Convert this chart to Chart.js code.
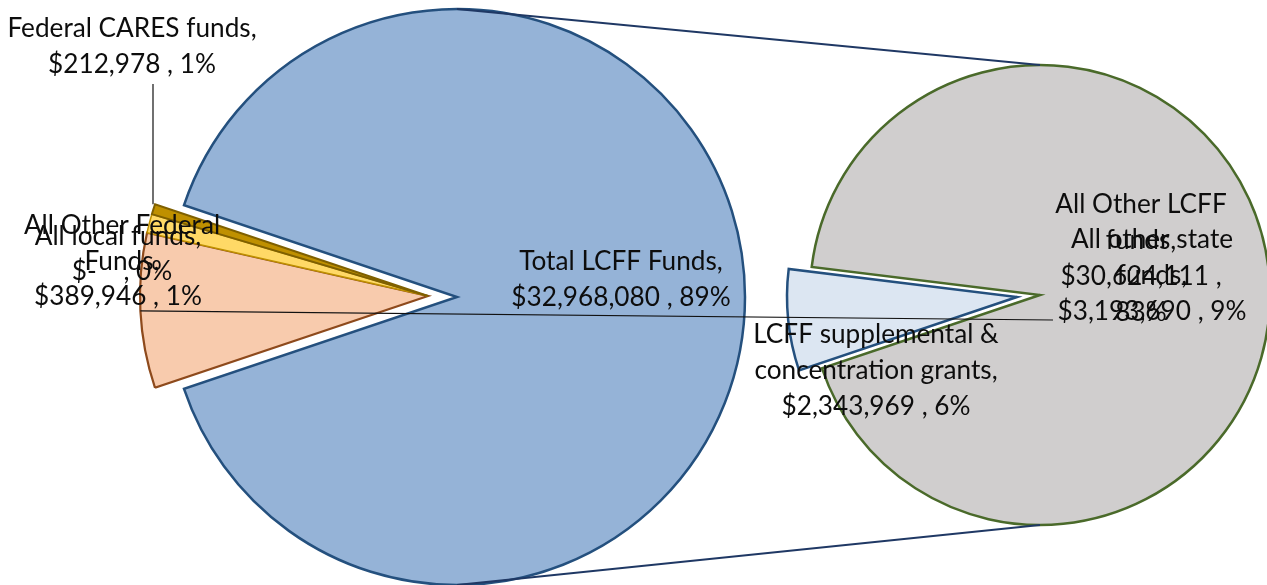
<!DOCTYPE html>
<html><head><meta charset="utf-8">
<script src="https://cdn.jsdelivr.net/npm/chart.js@4"></script>
<style>
html,body{margin:0;padding:0;background:#fff;}
#wrap{position:relative;width:1267px;height:585px;overflow:hidden;background:#fff;}
canvas{position:absolute;left:0;top:0;}
</style></head><body>
<div id="wrap">
<canvas id="c1" width="1267" height="585"></canvas>
<canvas id="c2" width="1267" height="585"></canvas>
<canvas id="c3" width="1267" height="585"></canvas>
<canvas id="c4" width="1267" height="585"></canvas>
</div>
<script>
// ---- data ----
const mainCategories = ['Total LCFF Funds', 'All other state funds', 'All local funds', 'All Other Federal Funds', 'Federal CARES funds'];
const mainValues = [32968080, 3193690, 389946, 0, 212978];
const secondaryCategories = ['All Other LCFF funds', 'LCFF supplemental & concentration grants'];
const secondaryValues = [30624111, 2343969];

// ---- helpers ----
const W = 1267, H = 585;
const grandTotal = mainValues.reduce((a, b) => a + b, 0);
function pad(cx, cy) {
  return { left: Math.max(0, 2 * cx - W), right: Math.max(0, W - 2 * cx),
           top: Math.max(0, 2 * cy - H), bottom: Math.max(0, H - 2 * cy) };
}
function money(v) { return v === 0 ? '$-   ' : '$' + v.toLocaleString('en-US'); }
function pctNum(v) { return Math.round(v / grandTotal * 100); }
function pct(v) { return pctNum(v) + '%'; }
// combined slice percentage = sum of its (rounded) parts, as in the source chart
const combinedPct = secondaryValues.reduce((a, v) => a + pctNum(v), 0) + '%';
function splitWords(name, counts) {
  const w = name.split(' '); const out = []; let k = 0;
  counts.forEach(c => { out.push(w.slice(k, k + c).join(' ')); k += c; });
  out[out.length - 1] += ',';
  return out;
}
const TRANSPARENT = 'rgba(0,0,0,0)';
const lcffFrac = mainValues[0] / grandTotal;
const mainRotation = 90 - lcffFrac * 180;
const secRotation = 277;

const common = (cx, cy, r, rot) => ({
  responsive: false, animation: false, events: [],
  layout: { padding: pad(cx, cy) },
  radius: r, rotation: rot,
  plugins: { legend: { display: false }, tooltip: { enabled: false } }
});

// main pie: the big combined slice
const chart1 = new Chart(document.getElementById('c1'), {
  type: 'pie',
  data: { labels: mainCategories, datasets: [{
    data: mainValues, clip: false,
    backgroundColor: mainCategories.map((c, i) => i === 0 ? '#95B3D7' : TRANSPARENT),
    borderColor: mainCategories.map((c, i) => i === 0 ? '#24507E' : TRANSPARENT),
    borderWidth: mainCategories.map((c, i) => i === 0 ? 2.5 : 0),
    borderJoinStyle: 'miter'
  }]},
  options: common(457, 297, 288, mainRotation)
});

// main pie: the small slices (shifted left)
const smallFill = [TRANSPARENT, '#F8CBAD', '#FFD966', '#FFFFFF', '#BF9000'];
const smallBorder = [TRANSPARENT, '#8E4A1C', '#BF9000', TRANSPARENT, '#7F6000'];
const smallWidth = [0, 2.2, 1.5, 0, 2];
const chart2 = new Chart(document.getElementById('c2'), {
  type: 'pie',
  data: { labels: mainCategories, datasets: [{
    data: mainValues, clip: false,
    backgroundColor: smallFill, borderColor: smallBorder, borderWidth: smallWidth,
    borderJoinStyle: 'miter'
  }]},
  options: common(428, 296, 288, mainRotation)
});

// secondary pie: large part
const chart3 = new Chart(document.getElementById('c3'), {
  type: 'pie',
  data: { labels: secondaryCategories, datasets: [{
    data: secondaryValues, clip: false,
    backgroundColor: ['#D0CECE', TRANSPARENT],
    borderColor: ['#4A6A2A', TRANSPARENT],
    borderWidth: [2.5, 0],
    borderJoinStyle: 'miter'
  }]},
  options: common(1040, 295, 230, secRotation)
});

// overlay: connectors, leader lines, labels
const overlay = {
  id: 'overlay',
  afterDraw(chart) {
    const ctx = chart.ctx;
    const m = chart1.getDatasetMeta(0).data[0];
    const smallArcs = chart2.getDatasetMeta(0).data;
    const s = chart3.getDatasetMeta(0).data[0];
    ctx.save();
    // connector lines
    ctx.strokeStyle = '#1F3864'; ctx.lineWidth = 2;
    ctx.beginPath();
    ctx.moveTo(m.x, m.y - m.outerRadius); ctx.lineTo(s.x, s.y - s.outerRadius);
    ctx.moveTo(m.x, m.y + m.outerRadius); ctx.lineTo(s.x, s.y + s.outerRadius);
    ctx.stroke();

    // font fit
    ctx.font = '100px Lato';
    const fs = 100 * 249 / ctx.measureText('Federal CARES funds,').width;
    ctx.font = fs.toFixed(1) + 'px Lato';
    ctx.fillStyle = '#0d0d0d';
    ctx.textAlign = 'center'; ctx.textBaseline = 'middle';

    // leader lines
    ctx.strokeStyle = '#111'; ctx.lineWidth = 1.2;
    const cares = smallArcs[4];
    const ey = cares.y + cares.outerRadius * Math.sin(cares.endAngle);
    ctx.beginPath(); ctx.moveTo(153, 84); ctx.lineTo(153, ey); ctx.stroke();
    const st = smallArcs[1];
    const mid = (st.startAngle + st.endAngle) / 2;
    ctx.beginPath();
    ctx.moveTo(st.x + st.outerRadius * Math.cos(mid), st.y + st.outerRadius * Math.sin(mid));
    ctx.lineTo(1053, 320); ctx.stroke();

    const lh = 36;
    const labels = [
      { x: 132, ys: [29, 65], lines: [...splitWords(mainCategories[4], [3]), money(mainValues[4]) + ' , ' + pct(mainValues[4])] },
      { x: 122, ys: [226, 262, 272], lines: [...splitWords(mainCategories[3], [3, 1]), money(mainValues[3]) + ' , ' + pct(mainValues[3])] },
      { x: 118, ys: [237, 297], lines: [...splitWords(mainCategories[2], [3]), money(mainValues[2]) + ' , ' + pct(mainValues[2])] },
      { x: 621, ys: [262, 262 + lh], lines: [...splitWords(mainCategories[0], [3]), money(mainValues[0]) + ' , ' + combinedPct] },
      { x: 1141, ys: [205, 205 + lh, 205 + 2 * lh, 205 + 3 * lh], lines: [...splitWords(secondaryCategories[0], [3, 1]), money(secondaryValues[0]) + ' ,', pct(secondaryValues[0])] },
      { x: 1152, ys: [240, 240 + lh, 240 + 2 * lh], lines: [...splitWords(mainCategories[1], [3, 1]), money(mainValues[1]) + ' , ' + pct(mainValues[1])] },
      { x: 876, ys: [335, 335 + lh, 335 + 2 * lh], lines: [...splitWords(secondaryCategories[1], [3, 2]), money(secondaryValues[1]) + ' , ' + pct(secondaryValues[1])] }
    ];
    labels.forEach(L => L.lines.forEach((t, i) => ctx.fillText(t, L.x, L.ys[i])));
    ctx.restore();
  }
};

// secondary pie: separated small part (shifted left) + overlay
const chart4 = new Chart(document.getElementById('c4'), {
  type: 'pie',
  data: { labels: secondaryCategories, datasets: [{
    data: secondaryValues, clip: false,
    backgroundColor: [TRANSPARENT, '#DCE6F2'],
    borderColor: [TRANSPARENT, '#24507E'],
    borderWidth: [0, 2.5],
    borderJoinStyle: 'miter'
  }]},
  options: common(1017, 297, 230, secRotation),
  plugins: [overlay]
});
</script>
</body></html>
